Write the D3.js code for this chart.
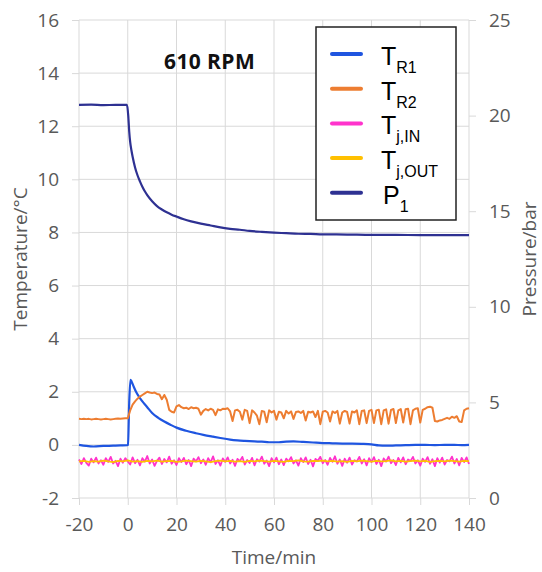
<!DOCTYPE html>
<html>
<head>
<meta charset="utf-8">
<script src="https://cdn.jsdelivr.net/npm/d3@7"></script>
<style>
  body { margin: 0; background: #fff; }
  .tick text { fill: #595959; font-family: "Open Sans", sans-serif; font-size: 19px; }
  .tick line { stroke: #d9d9d9; }
</style>
</head>
<body>
<div id="chart"></div>
<script>
// Set dimensions
const margin = { top: 20, right: 73, bottom: 74, left: 79 };
const width = 542 - margin.left - margin.right;
const height = 572 - margin.top - margin.bottom;

// Tick values
const timeTicks = [-20, 0, 20, 40, 60, 80, 100, 120, 140];
const tempTicks = [-2, 0, 2, 4, 6, 8, 10, 12, 14, 16];
const presTicks = [0, 5, 10, 15, 20, 25];

// T_R1 (°C), read at irregular times (min)
const timeR1 = [-20, -17, -14, -10, -6, -3, -0.2, 0.1, 0.6, 1.1, 1.6, 2.5, 3.5, 5, 6.5, 8, 10, 12.5, 15, 17.5, 20, 24, 28, 31, 35, 38, 42, 45, 48, 52, 55, 58, 62, 65, 68, 72, 76, 80, 84, 88, 92, 96, 100, 103, 106, 110, 114, 118, 122, 126, 130, 134, 137, 140];
const tempR1 = [0.0, -0.04, -0.06, -0.04, -0.03, -0.02, -0.01, 0.0, 1.6, 2.45, 2.38, 2.18, 1.98, 1.76, 1.58, 1.42, 1.2, 1.02, 0.88, 0.76, 0.65, 0.53, 0.44, 0.38, 0.31, 0.26, 0.2, 0.17, 0.15, 0.13, 0.12, 0.1, 0.1, 0.12, 0.13, 0.11, 0.09, 0.07, 0.06, 0.05, 0.05, 0.04, 0.02, -0.02, -0.03, -0.02, -0.01, 0.0, 0.0, -0.01, 0.0, 0.0, -0.01, 0.0];

// 1-minute samples from -20 to 140 min
const timeMin = d3.range(-20, 141, 1);
const tempR2 = [
  0.98, 0.97, 0.98, 0.97, 0.98, 0.96, 0.97, 0.98, 0.97, 0.96, 0.97, 0.98, 0.97, 0.96, 0.97, 0.98, 0.99, 0.98, 0.99, 1.00,
  1.00, 1.30, 1.52, 1.64, 1.74, 1.82, 1.88, 1.94, 2.00, 1.97,
  1.95, 1.97, 1.92, 1.90, 1.72, 1.88, 1.70, 1.32, 1.25, 1.22,
  1.45, 1.50, 1.42, 1.38, 1.40, 1.35, 1.42, 1.38, 1.40, 1.36,
  1.14, 1.28, 1.35, 1.30, 1.36, 1.32, 1.12, 1.34, 1.30, 1.36,
  1.35, 1.38, 1.26, 0.90, 1.30, 1.32, 1.25, 0.95, 1.32, 1.28,
  0.82, 1.30, 1.22, 1.10, 0.78, 1.28, 1.25, 0.85, 1.30, 1.22,
  1.28, 0.95, 1.25, 1.22, 1.00, 1.28, 1.18, 1.26, 0.98, 1.24,
  1.26, 1.20, 1.28, 0.92, 1.25, 1.22, 1.26, 1.05, 1.28, 0.78,
  1.25, 1.28, 1.22, 0.88, 1.26, 1.20, 1.28, 0.80, 1.22, 1.28,
  1.24, 0.80, 1.26, 1.22, 1.30, 0.78, 1.28, 1.30, 0.82, 1.28,
  1.32, 0.82, 1.30, 1.32, 0.78, 1.30, 1.34, 0.80, 1.32, 1.35,
  0.82, 1.30, 1.35, 0.84, 1.34, 1.36, 0.78, 1.30, 1.36, 1.38,
  0.84, 1.32, 1.36, 1.42, 1.44, 1.40, 0.90, 0.88, 0.92, 0.94,
  0.98, 1.02, 0.98, 1.06, 1.02, 1.08, 0.88, 0.86, 1.30, 1.36, 1.38
];
const tempJIn = [
  -0.55, -0.72, -0.5, -0.68, -0.78, -0.52, -0.66, -0.48, -0.7, -0.58,
  -0.75, -0.5, -0.64, -0.45, -0.7, -0.6, -0.8, -0.52, -0.67, -0.5,
  -0.62, -0.74, -0.47, -0.69, -0.56, -0.77, -0.5, -0.63, -0.42, -0.7,
  -0.55, -0.79, -0.6, -0.48, -0.72, -0.53, -0.66, -0.44, -0.71, -0.58,
  -0.76, -0.5, -0.65, -0.49, -0.73, -0.57, -0.8, -0.52, -0.62, -0.46,
  -0.69, -0.55, -0.75, -0.5, -0.66, -0.43, -0.72, -0.58, -0.78, -0.51,
  -0.64, -0.47, -0.7, -0.56, -0.79, -0.53, -0.61, -0.45, -0.74, -0.57,
  -0.68, -0.49, -0.77, -0.54, -0.63, -0.44, -0.71, -0.59, -0.8, -0.5,
  -0.66, -0.48, -0.73, -0.55, -0.76, -0.52, -0.62, -0.46, -0.7, -0.58,
  -0.78, -0.5, -0.65, -0.47, -0.72, -0.56, -0.81, -0.53, -0.6, -0.45,
  -0.69, -0.57, -0.75, -0.49, -0.64, -0.43, -0.71, -0.55, -0.79, -0.52,
  -0.67, -0.48, -0.74, -0.58, -0.62, -0.45, -0.7, -0.54, -0.77, -0.5,
  -0.65, -0.46, -0.72, -0.56, -0.8, -0.51, -0.63, -0.44, -0.69, -0.57,
  -0.76, -0.49, -0.66, -0.47, -0.73, -0.55, -0.61, -0.45, -0.7, -0.58,
  -0.78, -0.52, -0.64, -0.46, -0.71, -0.54, -0.8, -0.5, -0.67, -0.48,
  -0.74, -0.57, -0.62, -0.44, -0.7, -0.53, -0.77, -0.49, -0.65, -0.47,
  -0.72
];

// 2-minute samples from -20 to 140 min
const time2Min = d3.range(-20, 141, 2);
const tempJOut = [
  -0.62, -0.6, -0.64, -0.61, -0.63, -0.59, -0.62, -0.65, -0.6, -0.62,
  -0.58, -0.63, -0.61, -0.64, -0.6, -0.62, -0.59, -0.63, -0.61, -0.6,
  -0.64, -0.62, -0.59, -0.61, -0.63, -0.6, -0.62, -0.65, -0.61, -0.59,
  -0.62, -0.6, -0.63, -0.61, -0.64, -0.6, -0.62, -0.59, -0.61, -0.63,
  -0.6, -0.62, -0.64, -0.6, -0.61, -0.58, -0.62, -0.63, -0.6, -0.61,
  -0.59, -0.62, -0.6, -0.63, -0.61, -0.64, -0.6, -0.62, -0.59, -0.61,
  -0.63, -0.6, -0.62, -0.61, -0.58, -0.62, -0.6, -0.63, -0.61, -0.59,
  -0.62, -0.6, -0.64, -0.61, -0.6, -0.62, -0.59, -0.61, -0.63, -0.6,
  -0.61
];

// P1 (bar), secondary axis
const timeP1 = [-20, -15, -10, -5, -0.3, 0.2, 0.6, 1.0, 1.5, 2, 3, 4, 5, 6, 7, 8, 10, 12, 14, 16, 18, 20, 23, 26, 30, 34, 38, 42, 46, 50, 55, 60, 65, 70, 75, 80, 90, 100, 110, 120, 130, 140];
const presP1 = [20.56, 20.57, 20.55, 20.56, 20.56, 20.0, 19.17, 18.61, 18.19, 17.85, 17.29, 16.88, 16.56, 16.28, 16.04, 15.84, 15.52, 15.27, 15.09, 14.94, 14.82, 14.72, 14.58, 14.47, 14.35, 14.25, 14.15, 14.08, 14.03, 13.97, 13.92, 13.88, 13.85, 13.82, 13.81, 13.79, 13.78, 13.76, 13.76, 13.75, 13.75, 13.75];

const svg = d3.select("#chart")
    .append("svg")
    .attr("width", width + margin.left + margin.right)
    .attr("height", height + margin.top + margin.bottom)
    .append("g")
    .attr("transform", `translate(${margin.left},${margin.top})`);

const x = d3.scaleLinear().domain([-20, 140]).range([0, width]);
const yT = d3.scaleLinear().domain([-2, 16]).range([height, 0]);
const yP = d3.scaleLinear().domain([0, 25]).range([height, 0]);

// Plain hyphen minus, as in the original
const fmt = d => String(d);

// Grid
svg.append("g").selectAll("line")
    .data(tempTicks).enter().append("line")
    .attr("x1", 0).attr("x2", width)
    .attr("y1", d => yT(d)).attr("y2", d => yT(d))
    .attr("stroke", "#d9d9d9").attr("stroke-width", 1);
svg.append("g").selectAll("line")
    .data(timeTicks).enter().append("line")
    .attr("x1", d => x(d)).attr("x2", d => x(d))
    .attr("y1", 0).attr("y2", height)
    .attr("stroke", "#d9d9d9").attr("stroke-width", 1);

// Axes
svg.append("g")
    .attr("transform", `translate(0, ${height})`)
    .call(d3.axisBottom(x).tickValues(timeTicks).tickFormat(fmt).tickSize(7).tickPadding(13))
    .call(g => g.select(".domain").remove());
svg.append("g")
    .call(d3.axisLeft(yT).tickValues(tempTicks).tickFormat(fmt).tickSize(7).tickPadding(13))
    .call(g => g.select(".domain").remove());
svg.append("g")
    .attr("transform", `translate(${width}, 0)`)
    .call(d3.axisRight(yP).tickValues(presTicks).tickFormat(fmt).tickSize(7).tickPadding(13))
    .call(g => g.select(".domain").remove());

// Axis titles
const titleStyle = sel => sel
    .attr("fill", "#595959")
    .style("font-family", "'Open Sans', sans-serif")
    .style("font-size", "19px")
    .attr("text-anchor", "middle");

svg.append("text")
    .attr("transform", `translate(${27 - margin.left}, ${height / 2}) rotate(-90)`)
    .text("Temperature/°C").call(titleStyle);
svg.append("text")
    .attr("transform", `translate(${width + 67}, ${height / 2}) rotate(-90)`)
    .text("Pressure/bar").call(titleStyle);
svg.append("text")
    .attr("x", width / 2)
    .attr("y", height + 66)
    .text("Time/min").call(titleStyle);

// Chart label
svg.append("text")
    .attr("x", 164 - margin.left)
    .attr("y", 69 - margin.top)
    .attr("fill", "#111")
    .style("font-family", "'Open Sans', sans-serif")
    .style("font-size", "21px")
    .style("font-weight", "bold")
    .style("letter-spacing", "0.4px")
    .text("610 RPM");

// Lines
const zip = (ts, vs) => ts.map((t, i) => [t, vs[i]]);
const lineT = d3.line().x(d => x(d[0])).y(d => yT(d[1]));
const lineTs = d3.line().curve(d3.curveMonotoneX).x(d => x(d[0])).y(d => yT(d[1]));
const lineP = d3.line().curve(d3.curveMonotoneX).x(d => x(d[0])).y(d => yP(d[1]));

const series = [
    { name: "R1", data: zip(timeR1, tempR1), line: lineTs, color: "#1f55e0", w: 2.2 },
    { name: "R2", data: zip(timeMin, tempR2), line: lineT, color: "#ed7d31", w: 2 },
    { name: "jIn", data: zip(timeMin, tempJIn), line: lineT, color: "#ff33cc", w: 1.8 },
    { name: "jOut", data: zip(time2Min, tempJOut), line: lineT, color: "#ffc000", w: 1.8 },
    { name: "P1", data: zip(timeP1, presP1), line: lineP, color: "#2e3192", w: 2.2 }
];

series.forEach(s => {
    svg.append("path")
        .datum(s.data)
        .attr("fill", "none")
        .attr("stroke", s.color)
        .attr("stroke-width", s.w)
        .attr("stroke-linejoin", "round")
        .attr("d", s.line);
});

// Legend
const legend = svg.append("g")
    .attr("transform", `translate(${316 - margin.left}, ${27 - margin.top})`);

legend.append("rect")
    .attr("width", 140)
    .attr("height", 193)
    .attr("fill", "#fff")
    .attr("stroke", "#222")
    .attr("stroke-width", 1.5);

const legendItems = [
    { main: "T", sub: "R1", color: "#1f55e0" },
    { main: "T", sub: "R2", color: "#ed7d31" },
    { main: "T", sub: "j,IN", color: "#ff33cc" },
    { main: "T", sub: "j,OUT", color: "#ffc000" },
    { main: "P", sub: "1", color: "#2e3192" }
];

legendItems.forEach((d, i) => {
    const ly = 27 + i * 34.7;
    legend.append("line")
        .attr("x1", 16).attr("x2", 45)
        .attr("y1", ly).attr("y2", ly)
        .attr("stroke", d.color)
        .attr("stroke-width", 4)
        .attr("stroke-linecap", "round");
    const t = legend.append("text")
        .attr("x", d.main === "P" ? 67 : 65)
        .attr("y", ly + 11)
        .attr("fill", "#000")
        .style("font-family", "'Liberation Sans', Arial, sans-serif")
        .style("font-size", "25px");
    t.append("tspan").text(d.main);
    t.append("tspan")
        .attr("dy", 8)
        .style("font-size", "16px")
        .text(d.sub);
});
</script>
</body>
</html>
